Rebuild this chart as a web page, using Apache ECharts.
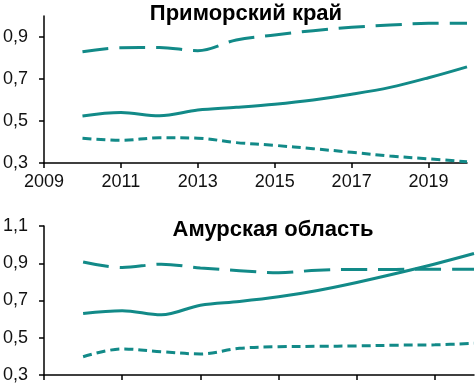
<!DOCTYPE html>
<html>
<head>
<meta charset="utf-8">
<script src="https://cdn.jsdelivr.net/npm/echarts@6/dist/echarts.min.js"></script>
<style>
  html, body { margin: 0; padding: 0; background: #fff; }
  #container { width: 476px; height: 384px; }
</style>
</head>
<body>
<div id="container"></div>
<script>
// годы и значения
const years = [2010, 2011, 2012, 2013, 2014, 2015, 2016, 2017, 2018, 2019, 2020];
const xTicks = [2009, 2011, 2013, 2015, 2017, 2019];

const primTitle = "Приморский край";
const primUpper = [0.83, 0.849, 0.85, 0.835, 0.886, 0.91, 0.93, 0.946, 0.957, 0.965, 0.966];
const primMain = [0.524, 0.54, 0.525, 0.552, 0.565, 0.58, 0.60, 0.627, 0.66, 0.706, 0.758];
const primLower = [0.418, 0.408, 0.42, 0.418, 0.397, 0.384, 0.368, 0.351, 0.333, 0.32, 0.306];
const primYTicks = [0.3, 0.5, 0.7, 0.9];

const amurTitle = "Амурская область";
const amurUpper = [0.907, 0.877, 0.895, 0.875, 0.86, 0.849, 0.863, 0.867, 0.867, 0.868, 0.868];
const amurMain = [0.63, 0.645, 0.623, 0.675, 0.695, 0.72, 0.754, 0.797, 0.845, 0.896, 0.952];
const amurLower = [0.398, 0.44, 0.425, 0.413, 0.443, 0.452, 0.454, 0.456, 0.46, 0.462, 0.47];
const amurYTicks = [0.3, 0.5, 0.7, 0.9, 1.1];

const teal = "#128a88";
const fontFamily = "'Liberation Sans', Arial, sans-serif";

function pairs(vals) {
  return years.map((y, i) => [y, vals[i]]);
}

function lineSeries(vals, idx, dash) {
  return {
    type: "line",
    xAxisIndex: idx,
    yAxisIndex: idx,
    smooth: 0.35,
    symbol: "none",
    lineStyle: { color: teal, width: 3, type: dash },
    data: pairs(vals)
  };
}

function xAxisDef(idx, showLabels) {
  return {
    type: "value",
    gridIndex: idx,
    min: 2009,
    max: 2020,
    splitLine: { show: false },
    axisLine: { lineStyle: { color: "#000", width: 1.5 } },
    axisTick: { show: true, length: 5, customValues: xTicks, lineStyle: { color: "#000", width: 1.5 } },
    axisLabel: {
      show: showLabels,
      customValues: xTicks,
      color: "#111",
      fontSize: 18,
      fontFamily: fontFamily,
      margin: 10,
      formatter: function (v) {
        return String(v);
      }
    }
  };
}

function yAxisDef(idx, min, max, ticks) {
  return {
    type: "value",
    gridIndex: idx,
    min: min,
    max: max,
    splitLine: { show: false },
    axisLine: { show: true, lineStyle: { color: "#000", width: 1.5 } },
    axisTick: { show: true, length: 5, customValues: ticks, lineStyle: { color: "#000", width: 1.5 } },
    axisLabel: {
      customValues: ticks,
      color: "#111",
      fontSize: 18,
      fontFamily: fontFamily,
      margin: 16,
      formatter: function (v) {
        return v.toFixed(1).replace(".", ",");
      }
    }
  };
}

const myChart = echarts.init(document.getElementById("container"));
const option = {
  animation: false,
  title: [
    {
      text: primTitle,
      left: 241,
      top: -2,
      textAlign: "center",
      textStyle: { fontSize: 22, fontWeight: "bold", color: "#000", fontFamily: fontFamily }
    },
    {
      text: amurTitle,
      left: 268,
      top: 214,
      textAlign: "center",
      textStyle: { fontSize: 22, fontWeight: "bold", color: "#000", fontFamily: fontFamily }
    }
  ],
  grid: [
    { left: 42, top: 16, width: 425, height: 147 },
    { left: 42, top: 226, width: 432, height: 149 }
  ],
  xAxis: [xAxisDef(0, true), xAxisDef(1, false)],
  yAxis: [yAxisDef(0, 0.3, 1.0, primYTicks), yAxisDef(1, 0.3, 1.1, amurYTicks)],
  series: [
    lineSeries(primUpper, 0, [26, 11]),
    lineSeries(primMain, 0, "solid"),
    lineSeries(primLower, 0, [9, 5]),
    lineSeries(amurUpper, 1, [26, 11]),
    lineSeries(amurMain, 1, "solid"),
    lineSeries(amurLower, 1, [9, 5])
  ]
};
myChart.setOption(option);
</script>
</body>
</html>
